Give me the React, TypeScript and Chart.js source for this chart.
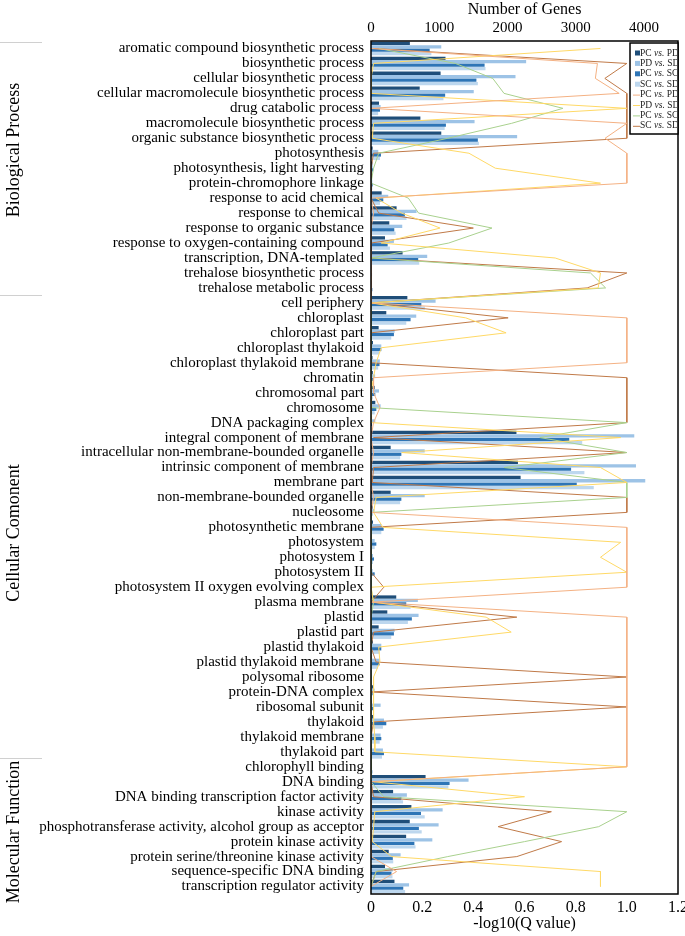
import { useEffect, useRef } from "react";
import { Chart, registerables } from "chart.js";

Chart.register(...registerables);

const categories = [
  "aromatic compound biosynthetic process",
  "biosynthetic process",
  "cellular biosynthetic process",
  "cellular macromolecule biosynthetic process",
  "drug catabolic process",
  "macromolecule biosynthetic process",
  "organic substance biosynthetic process",
  "photosynthesis",
  "photosynthesis, light harvesting",
  "protein-chromophore linkage",
  "response to acid chemical",
  "response to chemical",
  "response to organic substance",
  "response to oxygen-containing compound",
  "transcription, DNA-templated",
  "trehalose biosynthetic process",
  "trehalose metabolic process",
  "cell periphery",
  "chloroplast",
  "chloroplast part",
  "chloroplast thylakoid",
  "chloroplast thylakoid membrane",
  "chromatin",
  "chromosomal part",
  "chromosome",
  "DNA packaging complex",
  "integral component of membrane",
  "intracellular non-membrane-bounded organelle",
  "intrinsic component of membrane",
  "membrane part",
  "non-membrane-bounded organelle",
  "nucleosome",
  "photosynthetic membrane",
  "photosystem",
  "photosystem I",
  "photosystem II",
  "photosystem II oxygen evolving complex",
  "plasma membrane",
  "plastid",
  "plastid part",
  "plastid thylakoid",
  "plastid thylakoid membrane",
  "polysomal ribosome",
  "protein-DNA complex",
  "ribosomal subunit",
  "thylakoid",
  "thylakoid membrane",
  "thylakoid part",
  "chlorophyll binding",
  "DNA binding",
  "DNA binding transcription factor activity",
  "kinase activity",
  "phosphotransferase activity, alcohol group as acceptor",
  "protein kinase activity",
  "protein serine/threonine kinase activity",
  "sequence-specific DNA binding",
  "transcription regulator activity",
];

const groupNames = ["Biological Process", "Cellular Comonent", "Molecular Function"];
const seriesNames = ["PC vs. PD", "PD vs. SD", "PC vs. SC", "SC vs. SD"];
const geneTicks = [0, 1000, 2000, 3000, 4000];

// Number of genes (top axis)
const genesPCvsPD = [
  570, 1092, 1020, 714, 117, 724, 1030, 24, 20, 15, 156, 375, 268, 205, 463, 10, 10,
  533, 224, 112, 29, 22, 27, 54, 63, 15, 2132, 288, 2154, 2193, 288, 25, 29, 8, 8, 8, 8,
  370, 239, 112, 29, 15, 8, 29, 15, 29, 15, 15,
  5, 800, 324, 592, 568, 515, 260, 205, 344,
];
const genesPDvsSD = [
  1030, 2274, 2118, 1506, 141, 1518, 2142, 107, 25, 20, 253, 668, 458, 336, 824, 15, 15,
  947, 663, 346, 151, 130, 60, 117, 141, 63, 3859, 787, 3884, 4020, 787, 50, 151, 54, 29, 25, 15,
  687, 697, 346, 151, 127, 12, 54, 141, 190, 141, 175,
  15, 1430, 526, 1050, 991, 899, 434, 320, 558,
];
const genesPCvsSC = [
  860, 1665, 1545, 1087, 132, 1098, 1566, 146, 30, 25, 180, 497, 341, 244, 692, 15, 20,
  738, 580, 336, 151, 125, 35, 63, 78, 15, 2906, 445, 2933, 3016, 445, 20, 185, 78, 44, 54, 10,
  517, 599, 336, 151, 127, 10, 24, 29, 224, 151, 190,
  15, 1152, 445, 733, 702, 636, 320, 300, 473,
];
const genesSCvsSD = [
  885, 1678, 1566, 1062, 105, 1080, 1582, 132, 25, 20, 132, 521, 361, 278, 707, 10, 12,
  790, 517, 297, 117, 105, 20, 29, 54, 5, 3096, 427, 3128, 3265, 427, 10, 151, 54, 29, 15, 5,
  580, 541, 297, 127, 102, 8, 10, 15, 175, 127, 161,
  29, 1135, 470, 787, 743, 653, 326, 315, 500,
];

// -log10(Q value) (bottom axis)
const qPCvsPD = [
  0.0, 0.885, 0.877, 0.97, 0.0, 1.0, 0.915, 1.0, 1.0, 1.0, 0.0, 0.01, 0.0, 0.0, 0.0, 0.0, 0.0,
  0.0, 1.0, 1.0, 1.0, 1.0, 0.01, 0.01, 0.035, 0.01, 0.0, 0.01, 0.0, 0.0, 0.01, 0.0, 1.0, 1.0, 1.0, 1.0, 1.0,
  0.0, 1.0, 1.0, 1.0, 1.0, 1.0, 1.0, 1.0, 1.0, 1.0, 1.0,
  1.0, 0.0, 0.0, 0.0, 0.0, 0.0, 0.0, 0.1, 0.0,
];
const qPDvsSD = [
  0.897, 0.01, 0.0, 0.0, 1.0, 0.01, 0.005, 0.383, 0.486, 0.897, 0.02, 0.12, 0.27, 0.04, 0.72, 0.897, 0.888,
  0.0, 0.37, 0.528, 0.04, 0.02, 0.01, 0.0, 0.0, 0.0, 0.976, 0.12, 0.897, 1.0, 0.02, 0.01, 0.047, 0.976, 0.897, 1.0, 0.0,
  0.01, 0.45, 0.548, 0.03, 0.035, 0.01, 0.01, 0.01, 0.01, 0.015, 0.015,
  1.0, 0.01, 0.6, 0.015, 0.01, 0.005, 0.08, 0.897, 0.897,
];
const qPCvsSC = [
  0.03, 0.33, 0.476, 0.52, 0.75, 0.55, 0.3, 0.03, 0.01, 0.0, 0.146, 0.186, 0.473, 0.304, 0.0, 0.858, 0.917,
  0.0, 0.0, 0.0, 0.0, 0.0, 0.0, 0.0, 0.0, 1.0, 0.66, 1.0, 0.52, 1.0, 1.0, 0.0, 0.0, 0.0, 0.0, 0.0, 0.0,
  0.01, 0.0, 0.0, 0.0, 0.0, 0.0, 0.0, 0.0, 0.0, 0.0, 0.0,
  0.0, 0.0, 0.05, 1.0, 0.89, 0.6, 0.3, 0.02, 0.0,
];
const qSCvsSD = [
  0.01, 1.0, 0.914, 1.0, 1.0, 1.0, 1.0, 0.01, 0.0, 0.0, 0.0, 0.03, 0.4, 0.0, 0.0, 1.0, 0.845,
  0.0, 0.536, 0.0, 0.0, 0.0, 1.0, 1.0, 1.0, 1.0, 0.01, 1.0, 0.01, 0.005, 1.0, 1.0, 0.0, 0.0, 0.0, 0.0, 0.05,
  0.0, 0.57, 0.01, 0.0, 0.02, 1.0, 0.0, 1.0, 0.01, 0.0, 0.0,
  0.0, 0.0, 0.01, 0.705, 0.497, 0.745, 0.57, 0.02, 0.0,
];

const barColors = ["#1F4E79", "#9DC3E6", "#2E75B6", "#BDD7EE"];
const lineColors = ["#F4B183", "#FFD966", "#A9D18E", "#C07A48"];

const FONT = '"Liberation Serif", "Times New Roman", serif';

const decorPlugin = {
  id: "decor",
  afterDraw(chart: any) {
    const { ctx, chartArea: a } = chart;
    ctx.save();
    // frame
    ctx.strokeStyle = "#000";
    ctx.lineWidth = 1.5;
    ctx.strokeRect(a.left, a.top, a.right - a.left, a.bottom - a.top);

    // group dividers and labels
    ctx.strokeStyle = "#d0d0d0";
    ctx.lineWidth = 1;
    [42, 295, 758].forEach((y) => {
      ctx.beginPath();
      ctx.moveTo(0, y + 0.5);
      ctx.lineTo(42, y + 0.5);
      ctx.stroke();
    });
    ctx.fillStyle = "#000";
    ctx.font = `18px ${FONT}`;
    ctx.textAlign = "center";
    ctx.textBaseline = "middle";
    const centers = [150, 533, 832];
    groupNames.forEach((g, i) => {
      ctx.save();
      ctx.translate(14, centers[i]);
      ctx.rotate(-Math.PI / 2);
      ctx.fillText(g, 0, 0);
      ctx.restore();
    });

    // legend box
    const lx = 630, ly = 43, lw = 48, lh = 91;
    ctx.fillStyle = "#fff";
    ctx.fillRect(lx, ly, lw, lh);
    ctx.strokeStyle = "#000";
    ctx.lineWidth = 1.5;
    ctx.strokeRect(lx, ly, lw, lh);
    ctx.save();
    ctx.beginPath();
    ctx.rect(lx, ly, lw - 1, lh);
    ctx.clip();
    ctx.textAlign = "left";
    ctx.textBaseline = "middle";
    const items: { label: string; color: string; bar: boolean }[] = [];
    seriesNames.forEach((s, i) => items.push({ label: s, color: barColors[i], bar: true }));
    seriesNames.forEach((s, i) => items.push({ label: s, color: lineColors[i], bar: false }));
    items.forEach((it, i) => {
      const y = ly + 10 + i * 10.4;
      if (it.bar) {
        ctx.fillStyle = it.color;
        ctx.fillRect(lx + 5, y - 2.5, 5, 5);
      } else {
        ctx.strokeStyle = it.color;
        ctx.lineWidth = 1;
        ctx.beginPath();
        ctx.moveTo(lx + 3, y + 0.5);
        ctx.lineTo(lx + 10, y + 0.5);
        ctx.stroke();
      }
      ctx.fillStyle = "#222";
      const parts = it.label.split(" ");
      let x = lx + 10;
      ctx.font = `9.5px ${FONT}`;
      ctx.fillText(parts[0] + " ", x, y);
      x += ctx.measureText(parts[0] + " ").width;
      ctx.font = `italic 9.5px ${FONT}`;
      ctx.fillText(parts[1] + " ", x, y);
      x += ctx.measureText(parts[1] + " ").width;
      ctx.font = `9.5px ${FONT}`;
      ctx.fillText(parts[2], x, y);
    });
    ctx.restore();
    ctx.restore();
  },
};

export default function App() {
  const ref = useRef<HTMLCanvasElement | null>(null);

  useEffect(() => {
    if (!ref.current) return;
    const geneSeries = [genesPCvsPD, genesPDvsSD, genesPCvsSC, genesSCvsSD];
    const qSeries = [qPCvsPD, qPDvsSD, qPCvsSC, qSCvsSD];
    const datasets: any[] = [];
    qSeries.forEach((d, i) => {
      datasets.push({
        type: "line",
        label: seriesNames[i],
        data: d,
        xAxisID: "xBottom",
        yAxisID: "y",
        indexAxis: "y",
        borderColor: lineColors[i],
        backgroundColor: lineColors[i],
        borderWidth: 1,
        pointRadius: 0,
        tension: 0,
        fill: false,
        order: 0,
      });
    });
    geneSeries.forEach((d, i) => {
      datasets.push({
        type: "bar",
        label: seriesNames[i],
        data: d,
        xAxisID: "xTop",
        yAxisID: "y",
        indexAxis: "y",
        backgroundColor: barColors[i],
        borderWidth: 0,
        categoryPercentage: 0.92,
        barPercentage: 0.95,
        order: 1,
      });
    });

    const chart = new Chart(ref.current, {
      type: "bar",
      data: { labels: categories, datasets },
      options: {
        indexAxis: "y",
        animation: false,
        responsive: true,
        maintainAspectRatio: false,
        layout: { padding: { left: 0, right: 7, top: 0, bottom: 0 } },
        plugins: { legend: { display: false }, tooltip: { enabled: false } },
        scales: {
          y: {
            type: "category",
            position: "left",
            grid: { display: false, drawTicks: false },
            border: { display: false },
            ticks: {
              autoSkip: false,
              padding: 7,
              color: "#000",
              font: { family: FONT, size: 15 },
            },
            afterFit(s: any) {
              s.width = 371;
            },
          },
          xTop: {
            type: "linear",
            position: "top",
            min: 0,
            max: 4500,
            grid: { display: false, drawTicks: false },
            border: { display: false },
            afterBuildTicks(s: any) {
              s.ticks = geneTicks.map((v) => ({ value: v }));
            },
            ticks: {
              padding: 4,
              color: "#000",
              maxRotation: 0,
              autoSkip: false,
              font: { family: FONT, size: 15 },
              callback: (v: any) => String(v),
            },
            title: {
              display: true,
              text: "Number of Genes",
              color: "#000",
              font: { family: FONT, size: 16 },
              padding: { top: 0, bottom: 0 },
            },
            afterFit(s: any) {
              s.height = 41;
              s.paddingLeft = 0;
              s.paddingRight = 0;
            },
          },
          xBottom: {
            type: "linear",
            position: "bottom",
            min: 0,
            max: 1.2,
            grid: { display: false, drawTicks: false },
            border: { display: false },
            ticks: {
              stepSize: 0.2,
              padding: 4,
              color: "#000",
              maxRotation: 0,
              font: { family: FONT, size: 16 },
            },
            title: {
              display: true,
              text: "-log10(Q value)",
              color: "#000",
              font: { family: FONT, size: 16 },
              padding: { top: 0, bottom: 3 },
            },
            afterFit(s: any) {
              s.height = 42;
              s.paddingLeft = 0;
              s.paddingRight = 0;
            },
          },
        },
      },
      plugins: [decorPlugin],
    });
    return () => chart.destroy();
  }, []);

  return (
    <div style={{ position: "absolute", left: 0, top: 0, width: 685, height: 936, background: "#fff" }}>
      <canvas ref={ref} />
    </div>
  );
}
